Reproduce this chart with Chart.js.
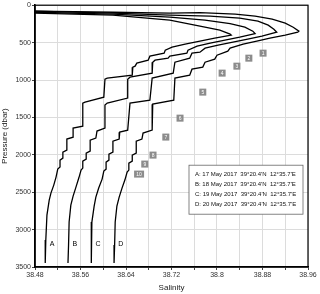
<!DOCTYPE html>
<html lang="en">
<head>
<meta charset="UTF-8">
<title>Salinity profiles</title>
<script src="https://cdn.jsdelivr.net/npm/chart.js"></script>
<style>
  html, body { margin: 0; padding: 0; background: #fff; }
  #wrap { width: 320px; height: 294px; }
</style>
</head>
<body>
<div id="wrap"><canvas id="profileChart"></canvas></div>
<script>
// salinity / pressure (dbar)
const salA = [38.30, 38.48, 38.617, 38.717, 38.770, 38.805, 38.823, 38.825, 38.796, 38.770, 38.744, 38.721, 38.709, 38.707, 38.682, 38.679, 38.659, 38.656, 38.652, 38.651, 38.607, 38.603, 38.601, 38.568, 38.564, 38.564, 38.547, 38.547, 38.536, 38.536, 38.529, 38.529, 38.524, 38.524, 38.520, 38.517, 38.513, 38.508, 38.505, 38.501, 38.499, 38.498];
const presA = [70, 107, 134, 200, 281, 334, 387, 401, 441, 481, 521, 561, 601, 641, 681, 735, 775, 815, 828, 935, 975, 989, 1229, 1296, 1309, 1617, 1643, 1764, 1790, 1937, 1964, 2044, 2071, 2164, 2191, 2298, 2405, 2512, 2605, 2806, 3140, 3447];

const salB = [38.30, 38.48, 38.617, 38.717, 38.779, 38.823, 38.849, 38.863, 38.867, 38.840, 38.814, 38.788, 38.765, 38.749, 38.747, 38.717, 38.714, 38.691, 38.687, 38.686, 38.647, 38.643, 38.643, 38.607, 38.603, 38.603, 38.589, 38.587, 38.577, 38.577, 38.570, 38.570, 38.564, 38.564, 38.561, 38.557, 38.552, 38.547, 38.543, 38.540, 38.539, 38.538];
const presB = [60, 94, 120, 160, 200, 247, 294, 347, 380, 428, 468, 508, 548, 601, 641, 681, 708, 735, 762, 908, 962, 989, 1242, 1309, 1336, 1643, 1683, 1777, 1804, 1950, 1977, 2057, 2084, 2178, 2204, 2311, 2432, 2552, 2672, 2899, 3206, 3447];

const salC = [38.30, 38.48, 38.617, 38.717, 38.788, 38.840, 38.872, 38.890, 38.900, 38.905, 38.879, 38.854, 38.828, 38.802, 38.779, 38.770, 38.756, 38.752, 38.726, 38.723, 38.686, 38.682, 38.647, 38.643, 38.629, 38.628, 38.617, 38.617, 38.610, 38.610, 38.605, 38.605, 38.601, 38.598, 38.592, 38.587, 38.584, 38.580, 38.579, 38.579];
const presC = [55, 80, 107, 134, 147, 174, 214, 267, 321, 361, 414, 454, 494, 534, 574, 628, 641, 708, 762, 908, 975, 1269, 1309, 1670, 1697, 1790, 1817, 1964, 1991, 2071, 2098, 2191, 2218, 2325, 2445, 2565, 2685, 2899, 3206, 3447];

const salD = [38.30, 38.48, 38.617, 38.717, 38.770, 38.832, 38.867, 38.897, 38.920, 38.934, 38.944, 38.942, 38.920, 38.893, 38.870, 38.846, 38.823, 38.819, 38.800, 38.796, 38.779, 38.775, 38.756, 38.752, 38.726, 38.724, 38.687, 38.686, 38.670, 38.668, 38.658, 38.658, 38.651, 38.651, 38.645, 38.645, 38.642, 38.638, 38.633, 38.628, 38.624, 38.621, 38.620, 38.619];
const presD = [55, 80, 94, 107, 100, 120, 147, 187, 240, 294, 347, 361, 401, 441, 481, 521, 574, 615, 668, 721, 762, 828, 855, 935, 975, 1269, 1323, 1670, 1710, 1790, 1817, 1977, 2004, 2084, 2111, 2204, 2231, 2338, 2445, 2565, 2685, 2899, 3206, 3447];

// cast letters near the bottom
const castLetters = ['A', 'B', 'C', 'D'];
const letterSal = [38.510, 38.550, 38.591, 38.631];
const letterPres = 3193;

// numbered staircase layers
const layerNames = ['1', '2', '3', '4', '5', '6', '7', '8', '9', '10'];
const layerSal = [38.881, 38.856, 38.835, 38.809, 38.775, 38.735, 38.710, 38.6875, 38.673, 38.663];
const layerPres = [641, 708, 815, 908, 1162, 1510, 1763, 2004, 2124, 2258];

const legendLines = [
  "A: 17 May 2017  39°20.4'N  12°35.7'E",
  "B: 18 May 2017  39°20.4'N  12°35.7'E",
  "C: 19 May 2017  39°20.4'N  12°35.7'E",
  "D: 20 May 2017  39°20.4'N  12°35.7'E"
];

const salTicks = [38.48, 38.52, 38.56, 38.60, 38.64, 38.68, 38.72, 38.76, 38.80, 38.84, 38.88, 38.92, 38.96];
const presTicks = [0, 500, 1000, 1500, 2000, 2500, 3000, 3500];

const FONT = '"Liberation Sans", Arial, sans-serif';

function toPoints(sal, pres) {
  return sal.map((s, i) => ({ x: s, y: pres[i] }));
}

function castSet(sal, pres) {
  return {
    data: toPoints(sal, pres),
    showLine: true,
    borderColor: '#000',
    borderWidth: 1.3,
    pointRadius: 0,
    fill: false,
    tension: 0
  };
}

const extras = {
  id: 'extras',
  afterDatasetsDraw(chart) {
    const { ctx, chartArea, scales: { x, y } } = chart;
    ctx.save();

    // frame
    ctx.strokeStyle = '#000';
    ctx.lineWidth = 1.2;
    ctx.strokeRect(chartArea.left, chartArea.top, chartArea.right - chartArea.left, chartArea.bottom - chartArea.top);

    // layer number boxes
    ctx.textAlign = 'center';
    ctx.textBaseline = 'middle';
    ctx.font = '5px ' + FONT;
    layerNames.forEach((name, i) => {
      const px = x.getPixelForValue(layerSal[i]);
      const py = y.getPixelForValue(layerPres[i]);
      const w = name.length > 1 ? 10 : 7;
      ctx.fillStyle = '#8c8c8c';
      ctx.fillRect(px - w / 2, py - 3.5, w, 7);
      ctx.fillStyle = '#fff';
      ctx.fillText(name, px, py + 0.5);
    });

    // cast letters
    ctx.fillStyle = '#000';
    ctx.font = '7px ' + FONT;
    castLetters.forEach((l, i) => {
      ctx.fillText(l, x.getPixelForValue(letterSal[i]), y.getPixelForValue(letterPres));
    });

    // legend box
    const bx = chartArea.right - 119, by = chartArea.top + 160, bw = 114, bh = 49;
    ctx.fillStyle = '#fff';
    ctx.fillRect(bx, by, bw, bh);
    ctx.strokeStyle = '#666';
    ctx.lineWidth = 0.8;
    ctx.strokeRect(bx, by, bw, bh);
    ctx.fillStyle = '#111';
    ctx.textAlign = 'left';
    ctx.font = '6px ' + FONT;
    legendLines.forEach((t, i) => {
      ctx.fillText(t, bx + 6, by + 9.5 + i * 10);
    });
    ctx.restore();
  }
};

new Chart(document.getElementById('profileChart'), {
  type: 'scatter',
  data: {
    datasets: [
      castSet(salA, presA),
      castSet(salB, presB),
      castSet(salC, presC),
      castSet(salD, presD)
    ]
  },
  options: {
    responsive: true,
    maintainAspectRatio: false,
    animation: false,
    layout: { padding: { top: 5, right: 12, left: 0, bottom: 0 } },
    plugins: { legend: { display: false }, tooltip: { enabled: false } },
    scales: {
      x: {
        type: 'linear',
        min: 38.48,
        max: 38.96,
        afterBuildTicks: (scale) => { scale.ticks = salTicks.map(v => ({ value: v })); },
        afterFit: (scale) => { scale.height = 27; },
        ticks: {
          autoSkip: false,
          maxRotation: 0,
          padding: 1,
          color: '#333',
          font: { size: 7, family: FONT },
          callback: (v, i) => (i % 2 === 0 ? String(+v.toFixed(2)) : '')
        },
        grid: { color: '#dcdcdc', tickLength: 3, tickColor: '#444' },
        border: { color: '#000', width: 1.6 },
        title: { display: true, text: 'Salinity', color: '#222', font: { size: 8, family: FONT }, padding: { top: 0, bottom: 1 } }
      },
      y: {
        type: 'linear',
        reverse: true,
        min: 0,
        max: 3500,
        afterBuildTicks: (scale) => { scale.ticks = presTicks.map(v => ({ value: v })); },
        afterFit: (scale) => { scale.width = 35; },
        ticks: {
          autoSkip: false,
          padding: 1,
          color: '#333',
          font: { size: 7, family: FONT },
          callback: (v) => String(v)
        },
        grid: { color: '#dcdcdc', tickLength: 3, tickColor: '#444' },
        border: { color: '#000', width: 1.6 },
        title: { display: true, text: 'Pressure (dbar)', color: '#222', font: { size: 8, family: FONT }, padding: { top: 0, bottom: 2 } }
      }
    }
  },
  plugins: [extras]
});
</script>
</body>
</html>
